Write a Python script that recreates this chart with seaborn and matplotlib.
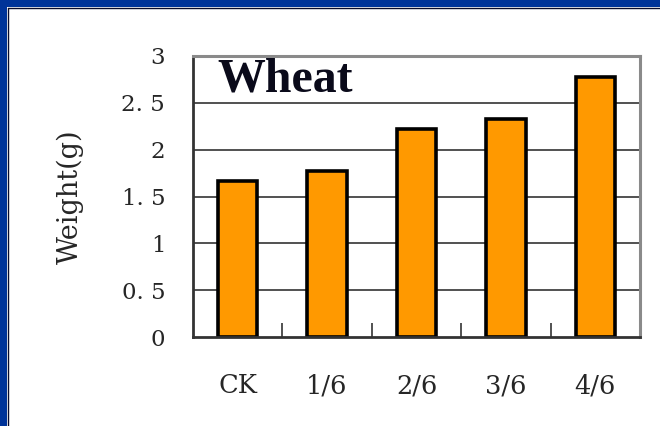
import matplotlib
matplotlib.use("Agg")
import matplotlib.pyplot as plt
import seaborn as sns
from matplotlib.patches import Rectangle
from matplotlib.lines import Line2D

categories = ["CK", "1/6", "2/6", "3/6", "4/6"]
weights = [1.67, 1.77, 2.22, 2.33, 2.78]
y_ticks = [0, 0.5, 1, 1.5, 2, 2.5, 3]
y_tick_labels = ["0", "0. 5", "1", "1. 5", "2", "2. 5", "3"]

sns.set_style("white")
plt.rcParams["font.family"] = ["DejaVu Serif", "DejaVu Sans"]

W, H = 660, 426
fig = plt.figure(figsize=(W / 100, H / 100), dpi=100)
fig.patch.set_facecolor("white")

ax = fig.add_axes([193 / W, 1 - 337 / H, (640 - 193) / W, (337 - 56) / H])

sns.barplot(x=categories, y=weights, color="#FF9900", saturation=1,
            width=0.44, edgecolor="black", linewidth=2.6, ax=ax, zorder=3)

ax.set_ylim(0, 3)
ax.set_xlim(-0.5, len(categories) - 0.5)
ax.set_yticks(y_ticks)
ax.set_yticklabels(y_tick_labels)
for y in y_ticks[1:-1]:
    ax.axhline(y, color="#222222", lw=1.1, zorder=1)

ax.set_xticks(range(len(categories)))
ax.set_xticklabels(categories)
ax.set_xticks([0.5, 1.5, 2.5, 3.5], minor=True)
ax.tick_params(axis="x", which="major", length=0, pad=26, labelsize=18.5)
ax.tick_params(axis="x", which="minor", direction="in", length=10, width=1.2,
               color="#333333", bottom=True)
ax.tick_params(axis="y", which="major", length=0, pad=20, labelsize=16.5)
for lab in ax.get_xticklabels() + ax.get_yticklabels():
    lab.set_fontweight("light")

ax.set_xlabel("")
ax.set_ylabel("Weight(g)", fontsize=19.5, labelpad=27)

for side in ["left", "bottom"]:
    ax.spines[side].set_color("#333333")
    ax.spines[side].set_linewidth(2)
for side in ["top", "right"]:
    ax.spines[side].set_color("#8a8a8a")
    ax.spines[side].set_linewidth(2.2)
for s in ax.spines.values():
    s.set_visible(True)
    s.set_zorder(4)

ax.text(0.055, 0.872, "Wheat", transform=ax.transAxes, ha="left", va="baseline",
        fontsize=34.5, fontweight="bold", family="Liberation Serif",
        color="#0a0a1a", zorder=5)

# blue frame (top and left)
blue = "#003399"
fig.patches.append(Rectangle((0, 1 - 7 / H), 1, 7 / H, transform=fig.transFigure,
                             facecolor=blue, edgecolor="none", zorder=10))
fig.patches.append(Rectangle((0, 0), 7 / W, 1, transform=fig.transFigure,
                             facecolor=blue, edgecolor="none", zorder=10))
fig.lines.append(Line2D([7.5 / W, 1], [1 - 7.5 / H, 1 - 7.5 / H],
                        transform=fig.transFigure, color="#0a0a2a", lw=1, zorder=11))
fig.lines.append(Line2D([7.5 / W, 7.5 / W], [0, 1 - 7.5 / H],
                        transform=fig.transFigure, color="#0a0a2a", lw=1, zorder=11))

fig.savefig("out.png", dpi=100)
